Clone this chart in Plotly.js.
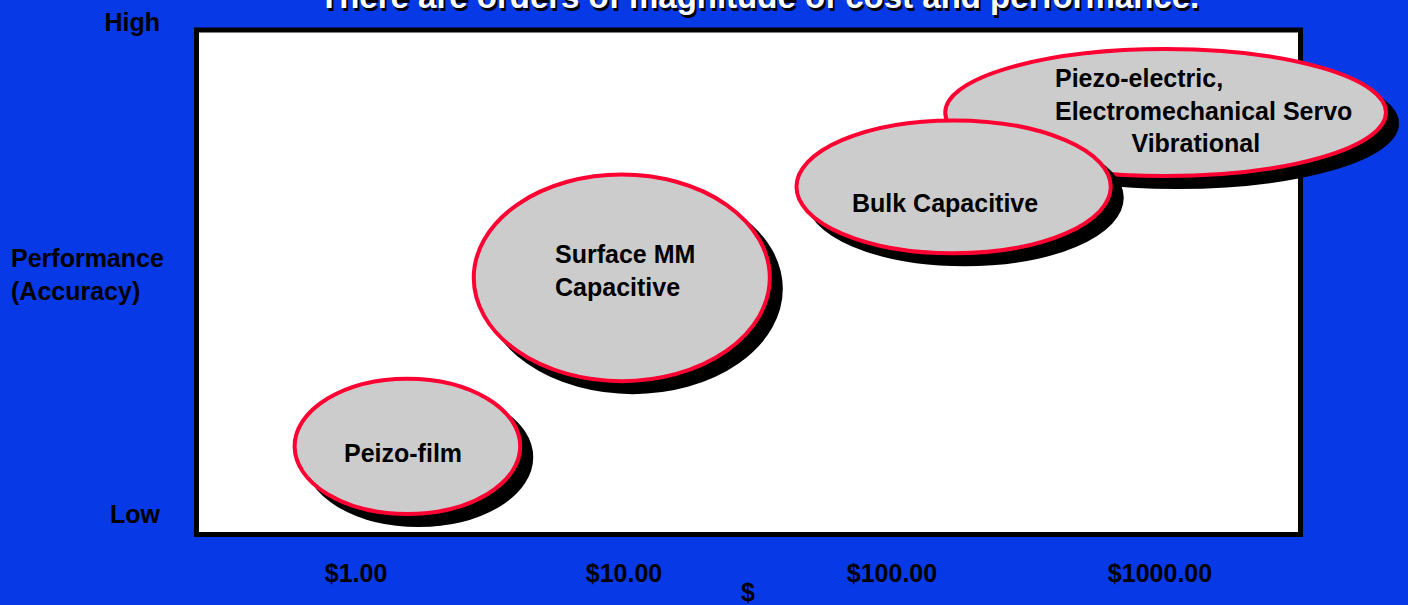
<!DOCTYPE html>
<html>
<head>
<meta charset="utf-8">
<script src="https://cdn.plot.ly/plotly-3.0.1.min.js"></script>
<style>
  html, body { margin: 0; padding: 0; background: #0839e6; }
  #chart { width: 1408px; height: 605px; }
</style>
</head>
<body>
<div id="chart"></div>
<script>
// ---- data ----
const costTicks = [1, 10, 100, 1000];
const costTickLabels = ['$1.00', '$10.00', '$100.00', '$1000.00'];
const perfTicks = [0, 10];
const perfTickLabels = ['Low', 'High'];

const techNames = [
  'Piezo-electric,<br>Electromechanical Servo<br>&nbsp;&nbsp;&nbsp;&nbsp;&nbsp;&nbsp;&nbsp;&nbsp;&nbsp;&nbsp;&nbsp;Vibrational',
  'Bulk Capacitive',
  'Surface MM<br>Capacitive',
  'Peizo-film'
];
const costLow  = [158, 44, 2.75, 0.59];
const costHigh = [6970, 655, 35, 4.1];
const perfLow  = [6.87, 5.3, 2.7, 0];
const perfHigh = [9.45, 8.0, 6.9, 2.75];
const labelCost = [1447, 157.6, 10.1, 1.5];
const labelPerf = [8.21, 6.32, 4.94, 1.24];
const labelAlign = ['left', 'center', 'left', 'center'];

const titleText = 'There are orders of magnitude of cost and performance.';
const yTitleText = 'Performance<br>(Accuracy)';
const xTitleText = '$';

// ---- layout ----
const W = 1408, H = 605;
const xRange = [-1.3284, 3.9254];   // log10 units
const yRange = [-1.8496, 10.4472];
const SHADOW = 11; // px
const pxPerDecade = W / (xRange[1] - xRange[0]);
const pxPerPerf = H / (yRange[1] - yRange[0]);
const shadowX = Math.pow(10, SHADOW / pxPerDecade);
const shadowY = SHADOW / pxPerPerf;

const BLUE = '#0839e6';
const RED = '#ff0033';
const font = { family: 'Liberation Sans, Arial, sans-serif', size: 25, color: '#000000', weight: 700 };

const shapes = [{
  type: 'rect', xref: 'paper', yref: 'paper',
  x0: 196.5 / W, x1: 1300.5 / W, y0: (H - 534.5) / H, y1: (H - 30) / H,
  fillcolor: '#ffffff', line: { color: '#000000', width: 5 }, layer: 'below'
}];
for (let i = 0; i < techNames.length; i++) {
  shapes.push({
    type: 'circle', xref: 'x', yref: 'y',
    x0: costLow[i] * shadowX, x1: costHigh[i] * shadowX,
    y0: perfLow[i] - shadowY, y1: perfHigh[i] - shadowY,
    fillcolor: '#000000', line: { color: '#000000', width: 4 }
  });
  shapes.push({
    type: 'circle', xref: 'x', yref: 'y',
    x0: costLow[i], x1: costHigh[i], y0: perfLow[i], y1: perfHigh[i],
    fillcolor: '#cccccc', line: { color: RED, width: 4 }
  });
}

const annotations = techNames.map((t, i) => ({
  xref: 'x', yref: 'y', x: Math.log10(labelCost[i]), y: labelPerf[i],
  text: t, showarrow: false, align: labelAlign[i],
  xanchor: 'center', yanchor: 'middle', font: font
}));
annotations.push({
  xref: 'paper', yref: 'paper', x: 9 / W, y: (H - 274) / H,
  xanchor: 'left', yanchor: 'middle', align: 'left',
  text: yTitleText, showarrow: false, font: font
});
annotations.push({
  xref: 'paper', yref: 'paper', x: 748 / W, y: (H - 592) / H,
  xanchor: 'center', yanchor: 'middle',
  text: xTitleText, showarrow: false, font: font
});
// title with drop shadow
annotations.push({
  xref: 'paper', yref: 'paper', x: 761 / W, y: (H + 1) / H,
  xanchor: 'center', yanchor: 'middle',
  text: titleText, showarrow: false,
  font: Object.assign({}, font, { size: 33, color: '#000000' })
});
annotations.push({
  xref: 'paper', yref: 'paper', x: 759 / W, y: (H + 3) / H,
  xanchor: 'center', yanchor: 'middle',
  text: titleText, showarrow: false,
  font: Object.assign({}, font, { size: 33, color: '#ffffff' })
});

const layout = {
  width: W, height: H,
  margin: { l: 0, r: 0, t: 0, b: 0, pad: 0 },
  paper_bgcolor: BLUE, plot_bgcolor: BLUE,
  showlegend: false,
  xaxis: {
    type: 'log', range: xRange, anchor: 'free', position: (H - 556) / H,
    tickvals: costTicks, ticktext: costTickLabels, tickfont: font,
    showgrid: false, zeroline: false, showline: false, ticks: '',
    fixedrange: true
  },
  yaxis: {
    range: yRange, anchor: 'free', position: 160 / W,
    tickvals: perfTicks, ticktext: perfTickLabels, tickfont: font,
    showgrid: false, zeroline: false, showline: false, ticks: '',
    fixedrange: true
  },
  shapes: shapes,
  annotations: annotations
};

Plotly.newPlot('chart', [], layout, { displayModeBar: false, staticPlot: true });
</script>
</body>
</html>
